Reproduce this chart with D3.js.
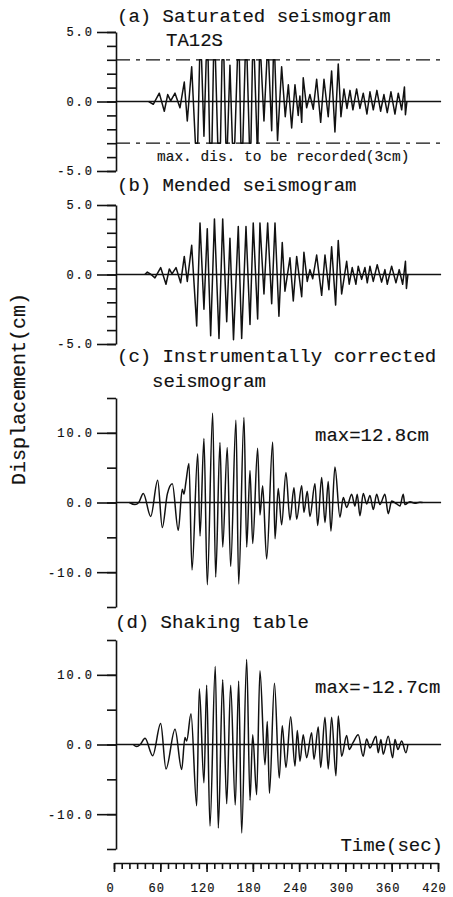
<!DOCTYPE html>
<html>
<head>
<meta charset="utf-8">
<script src="https://cdn.jsdelivr.net/npm/d3@7"></script>
<style>
  body { margin: 0; background: #fff; }
  svg text { font-family: "Liberation Mono", "Courier New", monospace; fill: #111; }
</style>
</head>
<body>
<div id="wrapper"></div>
<script>
// ---------- DATA ------------------------------------------------------
// time axis (sec)
const timeTicks = [0, 60, 120, 180, 240, 300, 360, 420];
const timeMinorStep = 10;

// recording limit of the seismograph (cm)
const recordLimit = 3;

// traces: [time (sec), displacement (cm)]
const saturated = [
  [45, 0], [50.9, -0.2], [58.7, 0.6], [65.2, -0.7], [69.6, 0.5], [73.5, 0.05], [79.1, 0.6],
  [85.5, -0.45], [91.1, 1.4], [95, -1.4], [100.7, 2.5], [105.5, -3], [108.5, -3], [111, 3],
  [113.5, 3], [116.6, -2.5], [119.5, 3], [122, 3], [124, -3], [127, -3], [129, 3], [131.5, 3],
  [134.5, -3], [138, -3], [140, 3], [142.5, 3], [145, -3], [147, -3], [150.3, 2.6], [153.5, -3],
  [156.5, -3], [160, 3], [162.5, 3], [164.5, -3], [167, -3], [170, 3], [172.5, 3], [175.5, -3],
  [177.5, -3], [179.5, 3], [182, 3], [185.5, -3], [186.5, -3], [188.5, 3], [190.5, 3],
  [194.4, -1.4], [198.2, 3], [200.5, 3], [204.4, -2.1], [206.5, 3], [208.5, 3], [212, -2.8],
  [217.3, 2.5], [222, -1.1], [226, 1.2], [230.3, -1.9], [234.6, 1.2], [238.8, -1.0], [241, 0.4],
  [243.3, -1.5], [245.3, 1.7], [249.7, -0.45], [254, 0.5], [258.3, -0.55], [262.7, 1.6],
  [267.9, -1.5], [272.2, 1.6], [277.7, -1.1], [282.1, 2.2], [286.4, -2.2], [290.7, 2.7],
  [294.2, -1.1], [298.1, 0.9], [302, -0.5], [305.9, 0.8], [309.7, -0.6], [314.5, 0.9],
  [318.8, -0.5], [323.1, 0.6], [327.9, -0.9], [331.8, 0.7], [336.1, -0.6], [340.8, 0.8],
  [345.6, -0.7], [349.9, 0.5], [354.2, -0.8], [359, 0.7], [364.2, -0.9], [368.5, 0.6],
  [372.9, -0.6], [376.5, 1.05], [377.8, -0.95], [379.7, 0]
];

const mended = [
  [40, 0], [43.2, 0.17], [48, 0], [53.1, -0.24], [60.5, 0.5], [67.4, -0.7], [71.7, 0.4],
  [75.2, 0.05], [80.4, 0.5], [86.4, -0.6], [91.1, 1.3], [95, -0.5], [100.7, 2.1], [107.2, -3.7],
  [111.5, 3.7], [116.6, -2.5], [120.9, 3.3], [125.3, -4.4], [130.2, 4.0], [136.1, -4.6],
  [140.9, 4.0], [146.1, -3.4], [150.3, 2.6], [154.9, -4.7], [161.1, 3.45], [165.5, -4.6],
  [171.1, 3.45], [176.3, -3.6], [180.5, 3.7], [186.2, -3.2], [189.2, 3.7], [194.4, -1.4],
  [199.2, 3.7], [204.4, -2.1], [208.7, 3.7], [213.8, -3.0], [218.1, 2.3], [221.6, -1.2],
  [228.1, 1.2], [232.4, -1.9], [236.8, 1.3], [243.3, -1.6], [246.2, 1.6], [250.5, -0.5],
  [254, 0.35], [257.6, -0.3], [262.7, 1.4], [269.2, -1.5], [273.5, 1.4], [278.6, -1.1],
  [282.1, 2.0], [287.3, -2.2], [290.7, 2.45], [295.1, -1.4], [301.6, 0.95], [304.9, -0.7],
  [308.8, 0.5], [313.6, -0.7], [316.6, 0.6], [321, -0.35], [325.3, 0.5], [328.3, -0.6],
  [331.8, 0.6], [336.1, -0.5], [341.2, 0.7], [346.9, -0.55], [351.2, 0.35], [354.2, -0.7],
  [359.9, 0.6], [365.5, -0.6], [369.7, 0.35], [374.2, -0.7], [377.8, 0.95], [379.1, -1.0],
  [381, 0]
];

const corrected = [
  [20, 0], [27.2, -0.3], [32, 0], [38, 1.3], [47.6, -2.0], [56.6, 3.2], [62.6, -3.6],
  [69.1, 1.2], [75.6, 2.7], [83.3, -4.0], [88.5, 1.9], [90.7, 1.2], [93.3, 3.0], [97.2, 5.6],
  [101.1, -9.7], [108.5, 7.0], [111.5, -4.8], [116.6, 9.2], [120.9, -11.8], [127.9, 12.8],
  [131.8, -10.7], [137.4, 8.6], [140.9, -6.4], [146.8, 7.9], [151.2, -9.2], [158.1, 11.8],
  [161.6, -11.7], [168.5, 12.2], [172, -6.4], [176.3, 4.6], [179.8, -5.9], [186.2, 7.8],
  [189.2, -1.8], [192.7, 2.4], [197.9, -8.1], [205.7, 8.7], [208.7, -5.2], [212.9, 2.0],
  [217.3, -3.2], [222.9, 4.3], [228.1, -2.5], [233.3, 2.1], [236.8, -2.4], [243.3, 2.4],
  [246.2, -1.4], [250.5, 1.6], [254, -2.0], [260.5, 2.7], [264, -3.3], [269.2, 3.6],
  [273.5, -2.9], [277.7, 3.0], [281.2, -4.1], [286.4, 5.1], [292.9, -2.1], [297.2, 0.7],
  [301.6, -0.7], [308.1, 1.2], [312.3, -0.5], [315.3, 1.2], [318.8, -1.9], [323.1, 1.3],
  [327.5, -0.2], [331.8, 1.0], [336.1, -1.0], [340.5, 1.2], [344.7, -0.3], [351.2, 1.2],
  [355.5, -1.6], [359.9, 0.2], [366.4, -0.2], [370.7, -0.5], [374.9, 1.2], [377.1, -0.3],
  [383.6, 0.1], [390, -0.1], [396.6, 0.05], [400, 0]
];

const shakingTable = [
  [25, 0], [29.4, -0.3], [34, 0], [40.2, 0.9], [50.2, -1.6], [60.5, 3.0], [67.4, -3.5],
  [79.1, 2.2], [87.7, -3.6], [92, 1.0], [94.2, 0.5], [99.8, 4.4], [107.2, -8.8], [110.6, 8.0],
  [116.6, -5.5], [120.1, 8.5], [124.4, -11.7], [131.3, 11.2], [135.2, -12.0], [140.9, 9.3],
  [146.1, -8.5], [151.2, 8.5], [157.2, -8.7], [161.6, 9.1], [165.5, -12.7], [172, 12.2],
  [176.3, -8.0], [179.8, 1.4], [184.9, -7.2], [189.2, 10.6], [195.7, -2.9], [198.7, 3.3],
  [201.5, -7.0], [208, 8.8], [214.2, -4.8], [218.1, 2.7], [222.9, -3.3], [229, 4.0],
  [234.6, -3.1], [237.6, 2.0], [241.1, -2.4], [245.3, 1.4], [249.7, -1.9], [256.2, 1.7],
  [259.2, -2.1], [264.8, 2.5], [267.9, -3.3], [273.5, 3.9], [277.7, -3.5], [282.1, 3.9],
  [287.7, -4.5], [290.7, 4.1], [295.1, -1.7], [301.6, 1.3], [304.9, -0.7], [310, 0.3],
  [316.6, 1.4], [323, -1.7], [327.5, 0.8], [331.8, -0.5], [339.6, 1.2], [342.5, -1.2],
  [346, 0.7], [349, -1.4], [355.5, 1.2], [361.2, -1.9], [364.2, 0.7], [368, -0.7],
  [372.9, 0.5], [378.4, -1.2], [381, 0]
];

// ---------- DRAW -----------------------------------------------------
function drawChart() {

  const dimensions = { width: 453, height: 897 };

  const svg = d3
    .select("#wrapper")
    .append("svg")
    .attr("width", dimensions.width)
    .attr("height", dimensions.height);

  // one time scale shared by all four records
  const xScale = d3.scaleLinear().domain([0, 420]).range([114, 438]);
  const axisX = xScale(0) + 2;

  // panel layout (vertical pixel extent of each y axis)
  const panels = [
    { data: saturated, yMax: 5, minorStep: 1, majorStep: 5, top: 32, bottom: 171, curve: d3.curveLinear },
    { data: mended, yMax: 5, minorStep: 1, majorStep: 5, top: 205, bottom: 344, curve: d3.curveLinear },
    { data: corrected, yMax: 15, minorStep: 5, majorStep: 10, top: 398, bottom: 607, curve: d3.curveMonotoneX },
    { data: shakingTable, yMax: 15, minorStep: 5, majorStep: 10, top: 640, bottom: 849, curve: d3.curveMonotoneX },
  ];

  panels.forEach((p, i) => {
    const yScale = d3.scaleLinear().domain([-p.yMax, p.yMax]).range([p.bottom, p.top]);
    const g = svg.append("g").attr("color", "#111");

    // minor ticks + axis line
    const minorAxis = d3.axisLeft(yScale)
      .tickValues(d3.range(-p.yMax, p.yMax + 0.01, p.minorStep))
      .tickSize(9)
      .tickSizeOuter(0)
      .tickFormat("");
    g.append("g")
      .attr("transform", `translate(${axisX},0)`)
      .call(minorAxis)
      .call(a => a.selectAll("path, line").attr("stroke-width", 1.6));

    // major ticks with labels
    const majorMax = Math.floor(p.yMax / p.majorStep) * p.majorStep;
    const majorAxis = d3.axisLeft(yScale)
      .tickValues(d3.range(-majorMax, majorMax + 0.01, p.majorStep))
      .tickSize(19)
      .tickPadding(3)
      .tickFormat(d => d.toFixed(1));
    g.append("g")
      .attr("transform", `translate(${axisX},0)`)
      .call(majorAxis)
      .call(a => a.select(".domain").remove())
      .call(a => a.selectAll("line").attr("stroke-width", 1.6))
      .call(a => a.selectAll("text")
        .style("font-size", "12px")
        .style("letter-spacing", "2px")
        .attr("fill", "#111")
        .attr("stroke", "#111")
        .attr("stroke-width", 0.2));

    // zero line
    g.append("line")
      .attr("x1", axisX)
      .attr("x2", xScale(424))
      .attr("y1", yScale(0))
      .attr("y2", yScale(0))
      .attr("stroke", "#111")
      .attr("stroke-width", 1.5);

    // recording limit of the saturated record
    if (i === 0) {
      [recordLimit, -recordLimit].forEach(level => {
        g.append("line")
          .attr("x1", axisX)
          .attr("x2", xScale(426))
          .attr("y1", yScale(level))
          .attr("y2", yScale(level))
          .attr("stroke", "#111")
          .attr("stroke-width", 1.3)
          .style("stroke-dasharray", "14 6 4 6");
      });
    }

    // the trace
    const lineGenerator = d3.line()
      .x(d => xScale(d[0]))
      .y(d => yScale(d[1]))
      .curve(p.curve);

    g.append("path")
      .datum(p.data)
      .attr("d", lineGenerator)
      .attr("fill", "none")
      .attr("stroke", "#111")
      .attr("stroke-width", 1.5)
      .attr("stroke-linejoin", "round");
  });

  // ---------- TIME AXIS ------------------------------------------------
  const timeAxisY = 863;
  svg.append("g")
    .attr("color", "#111")
    .attr("transform", `translate(0,${timeAxisY})`)
    .call(d3.axisBottom(xScale)
      .tickValues(d3.range(0, 420 + 0.01, timeMinorStep))
      .tickSize(6)
      .tickSizeOuter(0)
      .tickFormat(""))
    .call(a => a.selectAll("path, line").attr("stroke-width", 1.6));

  svg.append("g")
    .attr("color", "#111")
    .attr("transform", `translate(0,${timeAxisY})`)
    .call(d3.axisBottom(xScale)
      .tickValues(timeTicks)
      .tickSize(9)
      .tickPadding(11))
    .call(a => a.select(".domain").remove())
    .call(a => a.selectAll("line").attr("stroke-width", 1.6))
    .call(a => a.selectAll("text")
      .attr("dx", -4)
      .style("font-size", "12px")
      .style("letter-spacing", "1px")
      .attr("fill", "#111")
      .attr("stroke", "#111")
      .attr("stroke-width", 0.2));

  // ---------- TEXTS ----------------------------------------------------
  const addText = (txt, x, y, size, anchor = "start") =>
    svg.append("text")
      .attr("x", x)
      .attr("y", y)
      .attr("text-anchor", anchor)
      .attr("stroke", "#111")
      .attr("stroke-width", 0.15)
      .style("font-size", size + "px")
      .text(txt);

  addText("(a) Saturated seismogram", 117, 22, 19);
  addText("TA12S", 166, 46, 19);
  addText("max. dis. to be recorded(3cm)", 157, 161, 14.5);
  addText("(b) Mended seismogram", 117, 191, 19);
  addText("(c) Instrumentally corrected", 117, 362, 19);
  addText("seismogram", 152, 387, 19);
  addText("max=12.8cm", 315, 441, 19);
  addText("(d) Shaking table", 115, 628, 19);
  addText("max=-12.7cm", 315, 693, 19);
  addText("Time(sec)", 443, 851, 19, "end");

  svg.append("text")
    .attr("transform", "translate(25,389) rotate(-90)")
    .attr("text-anchor", "middle")
    .attr("stroke", "#111")
    .attr("stroke-width", 0.15)
    .style("font-size", "20px")
    .text("Displacement(cm)");
}

drawChart();
</script>
</body>
</html>
